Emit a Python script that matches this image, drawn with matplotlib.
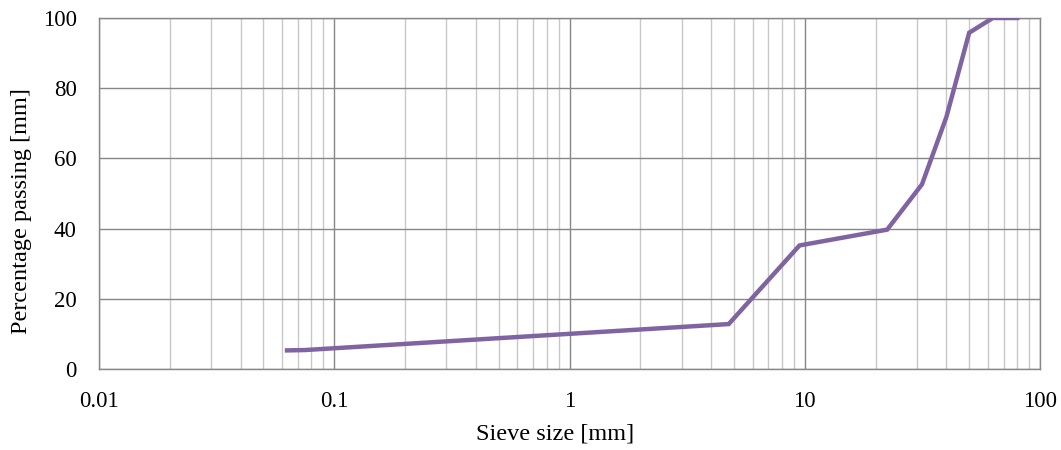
import matplotlib
matplotlib.use("Agg")
import matplotlib.pyplot as plt
from matplotlib.ticker import LogLocator, FixedLocator, NullFormatter

plt.rcParams['font.family'] = ['Liberation Serif', 'DejaVu Serif']

# sieve analysis data
sieve = [0.063, 0.075, 4.75, 9.5, 22.4, 31.5, 40, 50, 63, 80]
passing = [5.3, 5.4, 12.8, 35.2, 39.7, 52.6, 71.8, 95.8, 100, 100]

xticks = [0.01, 0.1, 1, 10, 100]
xtick_labels = ["0.01", "0.1", "1", "10", "100"]
yticks = [0, 20, 40, 60, 80, 100]

fig = plt.figure(figsize=(10.61, 4.5), dpi=100)
ax = fig.add_axes([99 / 1061, 1 - 369 / 450, (1040 - 99) / 1061, (369 - 18) / 450])

ax.plot(sieve, passing, color="#8064A2", lw=3.2, solid_joinstyle="miter", zorder=3)

ax.set_xscale("log")
ax.set_xlim(0.01, 100)
ax.set_ylim(0, 100)
ax.xaxis.set_major_locator(FixedLocator(xticks))
ax.set_xticklabels(xtick_labels)
ax.xaxis.set_minor_locator(LogLocator(base=10, subs=range(2, 10)))
ax.xaxis.set_minor_formatter(NullFormatter())
ax.set_yticks(yticks)

ax.grid(which="major", color="#878787", lw=1.0)
ax.grid(which="minor", axis="x", color="#c8c8c8", lw=1.0)
ax.set_axisbelow(True)
ax.tick_params(which="both", length=0, labelsize=16.5, colors="black")
ax.tick_params(axis="x", pad=16)
ax.tick_params(axis="y", pad=16)
for s in ax.spines.values():
    s.set_color("#878787")
    s.set_linewidth(1.0)

# labels sit slightly off-centre in the original
ax.set_xlabel("Sieve size [mm]", fontsize=17.5, labelpad=8, x=0.485)
ax.set_ylabel("Percentage passing [mm]", fontsize=17.5, labelpad=8, y=0.45)

fig.savefig("out.png", dpi=100)
